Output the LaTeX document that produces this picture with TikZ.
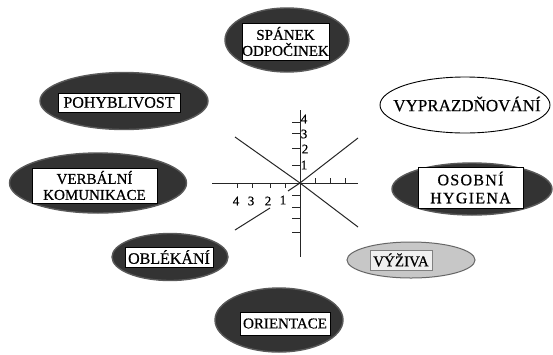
\documentclass[tikz,border=0pt]{standalone}
\usepackage{fontspec}
\setmainfont{Liberation Serif}
\newfontfamily\lblfont[FakeBold=0.6]{Liberation Serif}
\usetikzlibrary{shapes.geometric}
\newcommand{\fsz}[1]{\lblfont\fontsize{#1}{#1}\selectfont}
\begin{document}
\begin{tikzpicture}[x=1pt,y=-1pt,
  darkell/.style={ellipse,draw=black!65,line width=1.4pt,fill=black!80,inner sep=0pt},
  whiteell/.style={ellipse,draw=black,line width=0.9pt,fill=white,inner sep=0pt},
  grayell/.style={ellipse,draw=black!60,line width=1pt,fill=black!22,inner sep=0pt},
  lbox/.style={rectangle,draw=black,line width=0.6pt,fill=white,inner sep=0pt,align=center},
  plain/.style={inner sep=0pt,align=center},
  axis/.style={line width=1pt,black!85},
  tick/.style={line width=0.8pt,black!85},
  num/.style={inner sep=0pt,font=\fsz{13}}]
\useasboundingbox (0,0) rectangle (553,354);
\fill[white] (0,0) rectangle (553,354);

% ellipses
\node[darkell,minimum width=124pt,minimum height=64pt] (e1) at (287,40) {};
\node[lbox,minimum width=75pt,minimum height=37pt,font=\fsz{15}] (t1) at (285.5,41.5) {SPÁNEK\\[1pt]ODPOČINEK};

\node[darkell,minimum width=168pt,minimum height=57pt] (e2) at (124,101) {};
\node[lbox,minimum width=122pt,minimum height=19pt,font=\fsz{16}] (t2) at (119,102.5) {POHYBLIVOST};

\node[darkell,minimum width=177pt,minimum height=60pt] (e3) at (98,183) {};
\node[lbox,minimum width=125pt,minimum height=35pt,font=\fsz{15}] (t3) at (94.5,185.5) {VERBÁLNÍ\\[1pt]KOMUNIKACE};

\node[whiteell,minimum width=170pt,minimum height=56pt] (e4) at (465,105) {};
\node[plain,font=\fsz{17}] (t4) at (467,104) {VYPRAZDŇOVÁNÍ};

\node[darkell,minimum width=160pt,minimum height=52pt] (e5) at (472,189) {};
\node[lbox,minimum width=105pt,minimum height=41pt,font={\fsz{16}\addfontfeatures{LetterSpace=8}}] (t5) at (470.5,187.5) {OSOBNÍ\\[2pt]HYGIENA};

\node[darkell,minimum width=116pt,minimum height=47pt] (e6) at (170,257) {};
\node[lbox,minimum width=88pt,minimum height=20pt,font=\fsz{16}] (t6) at (169,257) {OBLÉKÁNÍ};

\node[grayell,minimum width=128pt,minimum height=36pt] (e7) at (411,260) {};
\node[lbox,draw=black!50,fill=black!6,minimum width=62pt,minimum height=20pt,font=\fsz{15}] (t7) at (401,260) {VÝŽIVA};

\node[darkell,minimum width=128pt,minimum height=64pt] (e8) at (279,320) {};
\node[lbox,minimum width=90pt,minimum height=23pt,font=\fsz{15}] (t8) at (285,323.5) {ORIENTACE};

% axes
\coordinate (O) at (300,183);
\coordinate (xl) at (212,183);
\coordinate (xr) at (358,183);
\coordinate (yt) at (300,110);
\coordinate (yb) at (300,257);
\coordinate (d1) at (235,137);
\coordinate (d2) at (358,227);
\coordinate (d3) at (358,138);
\coordinate (d4a) at (288,191);
\coordinate (d4b) at (270,208);
\coordinate (d4c) at (235,230);
\draw[axis] (xl) -- (xr);
\draw[axis] (yt) -- (yb);
\draw[axis] (d1) -- (O) -- (d2);
\draw[axis] (d3) -- (O) -- (d4a);
\draw[axis] (d4b) -- (d4c);
% ticks on vertical axis
\foreach \y in {122,133,148,165,195,207,218,232}
  \draw[tick] (292,\y) -- (300,\y);
% ticks on horizontal axis
\foreach \x in {237,252,270,285}
  \draw[tick] (\x,183) -- (\x,188);
\foreach \x in {315,330,345}
  \draw[tick] (\x,183) -- (\x,178);
% labels
\node[num] (v4) at (304,119) {4};
\node[num] (v3) at (304,134) {3};
\node[num] (v2) at (305,149) {2};
\node[num] (v1) at (304,165) {1};
\node[num] (h4) at (236,201) {4};
\node[num] (h3) at (251,201) {3};
\node[num] (h2) at (268,201) {2};
\node[num] (h1) at (283,200) {1};
\end{tikzpicture}
\end{document}
